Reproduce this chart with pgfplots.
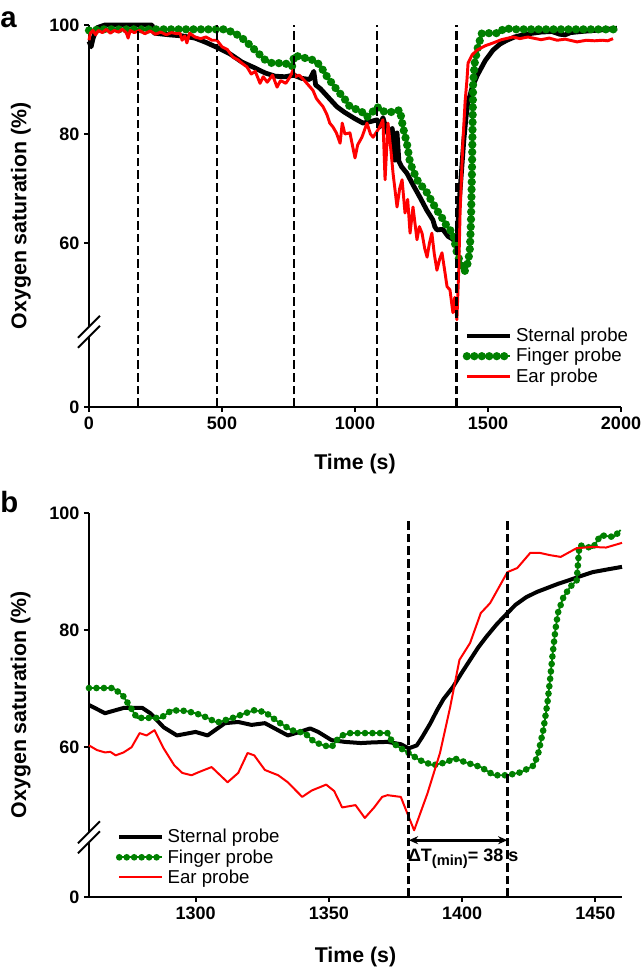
\documentclass[border=0pt]{standalone}
\usepackage{fontspec}
\setmainfont{Liberation Sans}
\usepackage{pgfplots}
\pgfplotsset{compat=1.18}
\usetikzlibrary{arrows.meta}

\definecolor{fgreen}{RGB}{0,128,0}
\definecolor{ered}{RGB}{255,0,0}

\pgfplotsset{
  panel/.style={
    scale only axis, anchor=south west,
    axis x line*=bottom, axis y line*=left,
    axis line style={line width=1.6pt},
    tick align=outside, major tick length=3.75pt,
    tick style={line width=1.5pt, black},
    tick label style={font=\bfseries\fontsize{13.5}{13.5}\selectfont},
    /pgf/number format/assume math mode=true,
    /pgf/number format/1000 sep={},
    scaled ticks=false,
    clip=false,
    legend cell align=left,
    legend image code/.code={\draw[##1] (0pt,0pt) -- (32pt,0pt);},
    legend style={draw=none, fill=none, font=\fontsize{14}{14}\selectfont,
      row sep=0pt, inner sep=0pt, nodes={inner sep=1.75pt}},
  },
  vdash/.style={black, line width=2.1pt, dash pattern=on 6.5pt off 3pt, forget plot},
}

\begin{document}
\begin{tikzpicture}
\useasboundingbox (0pt,0pt) rectangle (480pt,-727.5pt);

\node[anchor=base west, font=\bfseries\fontsize{22}{22}\selectfont, inner sep=0pt] at (0pt,-21pt) {a};
\node[anchor=base west, font=\bfseries\fontsize{22}{22}\selectfont, inner sep=0pt] at (0pt,-384pt) {b};

% ---------------- panel a ----------------
\begin{axis}[panel, at={(66.75pt,-305.25pt)}, width=399pt, height=286.5pt,
  xmin=0, xmax=2000, ymin=29.9, ymax=100,
  xtick={0,500,1000,1500,2000},
  ytick={29.9,60,80,100}, yticklabels={0,60,80,100},
  xlabel={Time (s)}, ylabel={Oxygen saturation (\%)},
  every axis y label/.style={at={(axis description cs:-0.128,0.5)}, rotate=90, anchor=center,
    font=\bfseries\fontsize{16}{16}\selectfont},
  every axis x label/.style={at={(axis description cs:0.5,-0.15)}, anchor=center,
    font=\bfseries\fontsize{16}{16}\selectfont},
  legend style={at={(0.702,0.213)}, anchor=north west}]

\addplot[black, line width=3.6pt, line join=round] table {
t v
0 97
8 96
15 97.5
30 99.5
60 100
120 100
180 100
237 100
245 98.5
300 98.2
350 98
398 97.6
440 96.8
485 95.8
530 94.7
575 93.2
620 92.2
662 91.2
700 90.6
737 90.5
770 90.8
800 90.2
830 90.0
845 91.5
852 89.0
870 88.3
900 86.7
932 85
960 84
1000 82.8
1030 82
1060 82.3
1083 82.6
1094 81.3
1105 83
1120 80.5
1132 79
1140 81
1150 75.2
1158 80.2
1165 75
1175 74
1195 72.8
1220 70.5
1244 68.4
1270 66
1293 64.2
1300 63
1308 62.4
1330 62.5
1350 61.2
1368 60.7
1380 59.8
1385 61.7
1390 66.3
1396 70.3
1403 74.9
1409 78.8
1417 82.9
1424 85.6
1440 88.5
1460 90.8
1490 93.5
1519 95.4
1545 96.5
1571 97.2
1600 97.8
1640 98.3
1669 98.5
1700 98.7
1740 98.8
1770 98.3
1790 98.2
1810 98.6
1850 98.8
1900 99
1950 99.2
1985 99.4
};
\addlegendentry{Sternal probe}

\addplot[fgreen, line width=1.5pt, line join=round,
  postaction={draw, line width=6.2pt, line cap=round, dash pattern=on 0pt off 5.6pt}] table {
t v
0 99
50 99.2
100 99.2
200 99.2
300 99.2
400 99.2
511 99.2
549 98.5
586 97.2
624 95.4
662 93.6
688 93
737 93
763 92.3
772 94.5
793 94.1
830 93.8
857 93.2
876 92
895 90.5
932 88.1
960 86.5
981 85
1000 84.6
1019 84.4
1045 83.1
1065 84
1083 85
1100 84.2
1132 84
1155 84.2
1169 84.4
1180 81.3
1195 78.3
1207 74.7
1233 71.6
1271 69.2
1290 67.5
1308 66
1330 64.4
1346 63
1368 61.8
1383 58.2
1395 56.5
1406 55
1412 54.8
1420 55.5
1428 57.5
1432 59
1436 64
1440 74
1444 89.3
1450 93
1459 95.4
1477 98.5
1545 98.5
1558 99.4
1600 99.2
1700 99.2
1800 99.2
1900 99.2
1985 99.2
};
\addlegendentry{Finger probe}

\addplot[ered, line width=2.2pt, line join=round] table {
t v
0 97.2
5 98.5
15 99
25 98.2
35 99
50 98.6
65 99.2
80 98.5
95 99
110 98.7
125 99.2
140 98.6
147 97.6
155 99
170 98.6
190 99
210 98.4
230 98.9
250 98.3
270 98.7
290 98.2
310 98.6
330 98.4
342 98.5
350 97.2
360 98
368 96.7
378 98.5
398 97.8
420 97.5
440 97.8
462 97.2
481 97.2
500 96
520 95.5
541 94.1
560 93.6
580 92.8
594 92.3
610 91
625 91.5
643 89.3
655 90.5
670 89.5
690 90.8
707 88.6
720 89.8
740 89.3
756 90.5
767 91.7
775 90.5
790 90.8
810 89.8
842 88
855 86.5
868 85.7
880 85
895 83.5
905 82
917 81.3
930 80.2
944 78.3
952 82
962 80
981 80.2
990 78
1000 75.6
1010 78
1026 79.4
1045 82
1058 80
1068 79.4
1083 80.5
1095 81.5
1105 82.6
1113 71.6
1124 82
1135 77
1143 72.8
1158 66.6
1168 70
1177 71.6
1188 65.5
1198 68
1207 61.8
1218 66.6
1233 60.6
1242 63
1252 61.8
1262 59
1271 57.4
1280 60
1289 61.8
1298 58
1308 55
1318 57
1327 58.2
1337 55
1346 52
1357 51.4
1368 47.2
1375 50
1383 45.9
1390 55
1395 65.5
1405 78
1414 86
1421 90
1425 93
1440 94.5
1459 95.4
1490 96.2
1519 96.7
1550 97.3
1594 97.8
1620 97.5
1650 97.8
1669 97.6
1700 97.3
1730 97.6
1760 97.2
1790 97.4
1835 96.9
1870 97.2
1900 97.1
1930 97.2
1950 97.1
1970 97.5
};
\addlegendentry{Ear probe}

\addplot[vdash] coordinates {(184,29.9) (184,100)};
\addplot[vdash] coordinates {(481,29.9) (481,100)};
\addplot[vdash] coordinates {(771,29.9) (771,100)};
\addplot[vdash] coordinates {(1083,29.9) (1083,100)};
\addplot[vdash] coordinates {(1383,29.9) (1383,100)};

\coordinate (brA) at (axis cs:0,43.7);
\end{axis}

\fill[white] ([shift={(-2pt,-3.75pt)}]brA) rectangle ([shift={(2pt,3.75pt)}]brA);
\draw[line width=1.4pt] ([shift={(-8.25pt,-4.5pt)}]brA) -- ([shift={(8.25pt,12pt)}]brA);
\draw[line width=1.4pt] ([shift={(-8.25pt,-12pt)}]brA) -- ([shift={(8.25pt,4.5pt)}]brA);

% ---------------- panel b ----------------
\begin{axis}[panel, at={(66.75pt,-672.75pt)}, width=399.75pt, height=288pt,
  xmin=1260, xmax=1460, ymin=34.4, ymax=100,
  xtick={1300,1350,1400,1450},
  ytick={34.4,60,80,100}, yticklabels={0,60,80,100},
  xlabel={Time (s)}, ylabel={Oxygen saturation (\%)},
  every axis y label/.style={at={(axis description cs:-0.128,0.5)}, rotate=90, anchor=center,
    font=\bfseries\fontsize{16}{16}\selectfont},
  every axis x label/.style={at={(axis description cs:0.5,-0.156)}, anchor=center,
    font=\bfseries\fontsize{16}{16}\selectfont},
  legend style={at={(0.05,0.183)}, anchor=north west}]

\addplot[black, line width=3pt, line join=round] table {
t v
1260 67.2
1266 65.8
1273 66.7
1280 66.7
1283 65.8
1288 63.4
1293 62
1300 62.6
1304.5 62
1311 64.1
1316 64.3
1321 63.8
1326 64.1
1334.6 62
1339 62.6
1343 63.2
1346 62.6
1351 61.2
1356 60.9
1362 60.7
1366 60.8
1372 60.9
1377 60.5
1380 59.8
1383 60.3
1385 61.7
1388 64
1390.6 66.3
1393 68.2
1396.6 70.3
1400 72.8
1403 74.9
1406 77
1409 78.8
1413 81
1417 82.9
1420 84.3
1424 85.6
1428 86.5
1432 87.2
1436 87.9
1440 88.5
1445 89.3
1449 89.9
1455 90.4
1460 90.8
};
\addlegendentry{Sternal probe}

\addplot[fgreen, line width=1.3pt, line join=round,
  postaction={draw, line width=5pt, line cap=round, dash pattern=on 0pt off 5.6pt}] table {
t v
1260 70.1
1265 70.1
1269 70.1
1272.6 68.9
1276 66.5
1278 65
1283 65
1287 65
1291 66.3
1296 66.2
1300 65.8
1304 65.1
1308 64.2
1311 64.6
1314.7 65.1
1318 65.7
1322 66.3
1326 66
1331 64.3
1336 62.9
1341 62.4
1344.5 60.9
1348 60.3
1351 60
1353 61.2
1355 62
1358 62.4
1365 62.4
1372 62.4
1374 60.7
1377 59.8
1380 59
1384 57.8
1389 56.9
1394 57.4
1397 58.1
1402 57.3
1407 56.6
1412 55.2
1417 55.2
1422 55.7
1427 56.9
1428.6 59
1430.5 63
1432 67.5
1433 71.5
1434 76
1435 80
1436 83
1438 85.6
1440.6 87.4
1443 88.5
1443.6 92
1444 94.5
1449 94
1452 96.2
1457 95.9
1459.5 97.1
};
\addlegendentry{Finger probe}

\addplot[ered, line width=1.5pt, line join=round] table {
t v
1260 60.3
1263 59.5
1266 59.1
1268 59.2
1270 58.6
1273 59.1
1276 60
1279 62.4
1281.6 62
1284.6 62.9
1288 59.8
1292 56.9
1295 55.6
1298.5 55.2
1301 55.7
1306 56.6
1312 54
1316 55.6
1319.5 59
1322 58.6
1326 56.1
1331 55.2
1334.6 54
1340 51.5
1343.6 52.6
1349 53.6
1352 52.5
1355 49.7
1360 50.1
1363.5 47.9
1367 49.7
1370 51.5
1372 51.8
1377 51.5
1379 49.2
1382 45.8
1387 52.1
1391.7 59
1395.5 66.8
1399 74.9
1403 77.8
1407 82.9
1410.5 84.6
1417 89.9
1420.7 90.6
1425.6 93.2
1429 93.2
1433 92.8
1437 92.5
1443 94
1449 94.2
1454 94.1
1460 94.9
};
\addlegendentry{Ear probe}

\addplot[vdash] coordinates {(1380,34.4) (1380,99.3)};
\addplot[vdash] coordinates {(1417,34.4) (1417,99.3)};

\draw[line width=2pt, {Stealth[length=7pt,width=6pt]}-{Stealth[length=7pt,width=6pt]}]
  (axis cs:1380,44.1) -- (axis cs:1417,44.1);
\node[font=\bfseries\fontsize{13.5}{13.5}\selectfont, inner sep=0pt] at (axis cs:1400.4,40.9)
  {ΔT\raisebox{-3pt}{\fontsize{11}{11}\selectfont (min)}= 38 s};

\coordinate (brB) at (axis cs:1260,44.6);
\end{axis}

\fill[white] ([shift={(-2pt,-3.75pt)}]brB) rectangle ([shift={(2pt,3.75pt)}]brB);
\draw[line width=1.4pt] ([shift={(-8.25pt,-4.5pt)}]brB) -- ([shift={(8.25pt,12pt)}]brB);
\draw[line width=1.4pt] ([shift={(-8.25pt,-12pt)}]brB) -- ([shift={(8.25pt,4.5pt)}]brB);
\end{tikzpicture}
\end{document}
